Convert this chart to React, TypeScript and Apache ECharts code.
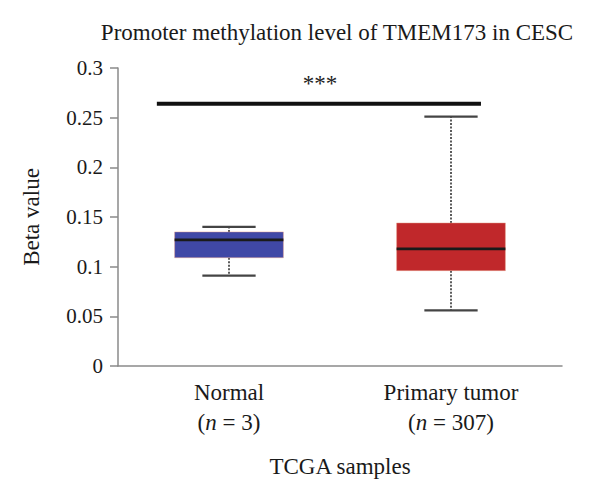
import React, { useEffect, useRef } from "react";
import * as echarts from "echarts";

// Box summary per sample group (beta values)
const categories = ["Normal", "Primary tumor"];
const sampleCounts = [3, 307];
const lowerWhisker = [0.091, 0.056];
const q1 = [0.109, 0.096];
const median = [0.127, 0.118];
const q3 = [0.135, 0.144];
const upperWhisker = [0.14, 0.251];
const boxColors = ["#4048a6", "#c0282b"];

// Significance bracket between the two groups
const significanceLevel = 0.264;
const significanceLabel = "***";

const yTicks = { min: 0, max: 0.3, interval: 0.05 };

const FONT = "'Liberation Serif', 'DejaVu Serif', serif";
const TEXT = "#1a1a1a";
const AXIS = "#8a8a8a";

export default function App() {
  const ref = useRef<HTMLDivElement>(null);

  useEffect(() => {
    if (!ref.current) return;
    const chart = echarts.init(ref.current, undefined, { renderer: "svg" });

    const boxData = categories.map((_, i) => [
      i,
      lowerWhisker[i],
      q1[i],
      median[i],
      q3[i],
      upperWhisker[i],
    ]);

    const renderBox = (params: any, api: any) => {
      const i = api.value(0);
      const band = api.size([1, 0])[0];
      const halfBox = band * 0.245;
      const halfCap = band * 0.12;
      const [cx, yLow] = api.coord([i, api.value(1)]);
      const yQ1 = api.coord([i, api.value(2)])[1];
      const yMed = api.coord([i, api.value(3)])[1];
      const yQ3 = api.coord([i, api.value(4)])[1];
      const yHigh = api.coord([i, api.value(5)])[1];
      const whiskerStyle = { stroke: "#333", lineWidth: 1.6, lineDash: [2, 1.5] };
      const capStyle = { stroke: "#444", lineWidth: 2.2 };
      return {
        type: "group",
        children: [
          { type: "line", shape: { x1: cx, y1: yQ3, x2: cx, y2: yHigh }, style: whiskerStyle },
          { type: "line", shape: { x1: cx, y1: yQ1, x2: cx, y2: yLow }, style: whiskerStyle },
          { type: "line", shape: { x1: cx - halfCap, y1: yHigh, x2: cx + halfCap, y2: yHigh }, style: capStyle },
          { type: "line", shape: { x1: cx - halfCap, y1: yLow, x2: cx + halfCap, y2: yLow }, style: capStyle },
          {
            type: "rect",
            shape: { x: cx - halfBox, y: yQ3, width: halfBox * 2, height: yQ1 - yQ3 },
            style: { fill: boxColors[i], stroke: "rgba(230,160,140,0.6)", lineWidth: 0.8 },
          },
          {
            type: "line",
            shape: { x1: cx - halfBox, y1: yMed, x2: cx + halfBox, y2: yMed },
            style: { stroke: "#1a1a1a", lineWidth: 2.8 },
          },
        ],
      };
    };

    const renderBracket = (params: any, api: any) => {
      const band = api.size([1, 0])[0];
      const y = api.coord([0, api.value(0)])[1];
      const left = api.coord([0, api.value(0)])[0] - band * 0.325;
      const right = api.coord([categories.length - 1, api.value(0)])[0] + band * 0.135;
      const mid = (api.coord([0, 0])[0] + api.coord([categories.length - 1, 0])[0]) / 2 - band * 0.09;
      return {
        type: "group",
        children: [
          { type: "line", shape: { x1: left, y1: y, x2: right, y2: y }, style: { stroke: "#111", lineWidth: 4 } },
          {
            type: "text",
            x: mid,
            y: y - 9,
            style: {
              text: significanceLabel,
              fill: "#222",
              font: `23px ${FONT}`,
              align: "center",
              verticalAlign: "bottom",
            },
          },
        ],
      };
    };

    chart.setOption({
      animation: false,
      backgroundColor: "#ffffff",
      graphic: [
        {
          type: "text",
          x: 329,
          y: 24,
          style: {
            text: "Promoter methylation level of TMEM173 in CESC",
            font: `23px ${FONT}`,
            fill: TEXT,
            align: "center",
            verticalAlign: "middle",
          },
        },
      ],
      grid: { left: 110, right: 30, top: 60, bottom: 126 },
      xAxis: {
        type: "category",
        data: categories,
        axisLine: { lineStyle: { color: AXIS, width: 1.5 } },
        axisTick: { show: false },
        axisLabel: {
          margin: 11,
          interval: 0,
          formatter: (value: string, idx: number) =>
            `{a|${value}}\n{a|(}{i|n}{a| = ${sampleCounts[idx]})}`,
          rich: {
            a: { fontFamily: FONT, fontSize: 23, color: TEXT, lineHeight: 30 },
            i: { fontFamily: FONT, fontSize: 23, color: TEXT, lineHeight: 30, fontStyle: "italic" },
          },
        },
        name: "TCGA samples",
        nameLocation: "middle",
        nameGap: 89,
        nameTextStyle: { fontFamily: FONT, fontSize: 23, color: TEXT },
      },
      yAxis: {
        type: "value",
        min: yTicks.min,
        max: yTicks.max,
        interval: yTicks.interval,
        splitLine: { show: false },
        axisLine: { show: true, lineStyle: { color: AXIS, width: 1.5 } },
        axisTick: { show: true, length: 8, lineStyle: { color: AXIS, width: 1.5 } },
        axisLabel: { fontFamily: FONT, fontSize: 21, color: TEXT, margin: 15 },
        name: "Beta value",
        nameLocation: "middle",
        nameGap: 75,
        nameTextStyle: { fontFamily: FONT, fontSize: 23, color: TEXT },
      },
      series: [
        {
          type: "custom",
          renderItem: renderBox,
          data: boxData,
          encode: { x: 0, y: [1, 2, 3, 4, 5] },
        },
        {
          type: "custom",
          renderItem: renderBracket,
          data: [[significanceLevel]],
          encode: { y: 0 },
        },
      ],
    });

    return () => chart.dispose();
  }, []);

  return <div ref={ref} style={{ width: 584, height: 484 }} />;
}
